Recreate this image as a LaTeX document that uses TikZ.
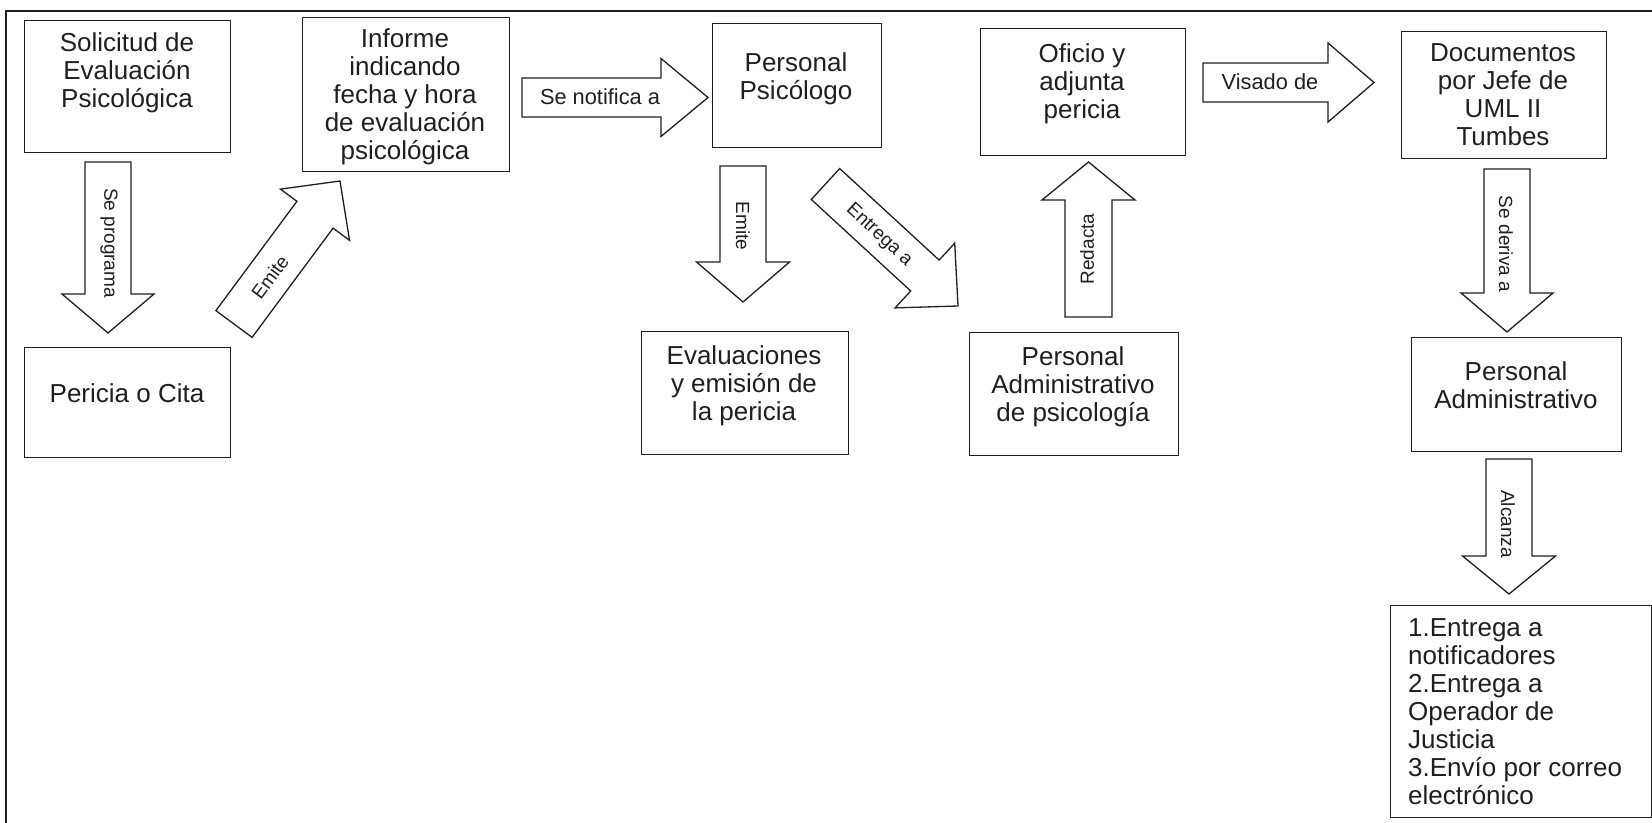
\documentclass[tikz,border=0pt]{standalone}
\usepackage{fontspec}
\setmainfont{Liberation Sans}
\usetikzlibrary{calc}
\definecolor{ink}{HTML}{1F1F1F}

\tikzset{
  box/.style={draw=ink, line width=1.3pt, inner sep=0pt, anchor=north west},
  boxtext/.style={font=\fontsize{26}{28}\selectfont, align=center, inner sep=0pt, text=ink, anchor=north},
  listtext/.style={font=\fontsize{26}{28}\selectfont, align=left, inner sep=0pt, text=ink, anchor=north west},
  arrowbody/.style={draw=ink, line width=1.3pt, fill=white, line join=miter},
  hlabel/.style={font=\fontsize{21.8}{24}\selectfont, inner sep=0pt, text=ink},
  vlabel/.style={font=\fontsize{19}{22}\selectfont, inner sep=0pt, text=ink},
  frameline/.style={draw=ink, line width=1.5pt}
}

% block arrow from tail centre #1 to tip #2;
% #3 shaft width, #4 head width, #5 head length
\newcommand{\blockarrow}[5]{%
  \draw[arrowbody] let \p1=(#1), \p2=(#2),
      \n1={atan2(\y2-\y1,\x2-\x1)},
      \n2={veclen(\x2-\x1,\y2-\y1)} in
    ($(\p1)+(\n1+90:#3/2)$)
    -- ++(\n1:\n2-#5)
    -- ++(\n1+90:#4/2-#3/2)
    -- (\p2)
    -- ($(\p2)+(\n1+180:#5)+(\n1-90:#4/2)$)
    -- ++(\n1+90:#4/2-#3/2)
    -- ++(\n1+180:\n2-#5)
    -- cycle;}

\begin{document}
\begin{tikzpicture}[x=1pt, y=1pt]
\useasboundingbox (0,0) rectangle (1652,-822);

% outer frame (only top and left edges fall inside the page)
\draw[frameline] (6,-830) -- (6,-11) -- (1660,-11);

% boxes
\node[box, minimum width=206pt, minimum height=132pt] (sol) at (24,-20) {};
\node[box, minimum width=207pt, minimum height=154pt] (inf) at (302,-17) {};
\node[box, minimum width=206pt, minimum height=110pt] (per) at (24,-347) {};
\node[box, minimum width=169pt, minimum height=124pt] (psi) at (712,-23) {};
\node[box, minimum width=207pt, minimum height=123pt] (eva) at (641,-331) {};
\node[box, minimum width=205pt, minimum height=127pt] (ofi) at (980,-28) {};
\node[box, minimum width=209pt, minimum height=123pt] (adp) at (969,-332) {};
\node[box, minimum width=205pt, minimum height=127pt] (doc) at (1401,-31) {};
\node[box, minimum width=210pt, minimum height=114pt] (adm) at (1411,-337) {};
\node[box, minimum width=261pt, minimum height=212pt] (lst) at (1390,-605) {};

% box texts
\node[boxtext] (solT) at (127,-31.7) {\strut Solicitud de\\Evaluación\\Psicológica};
\node[boxtext] (infT) at (405,-27.7) {\strut Informe\\indicando\\fecha y hora\\de evaluación\\psicológica};
\node[boxtext] (perT) at (127,-382.7) {\strut Pericia o Cita};
\node[boxtext] (psiT) at (796,-51.7) {\strut Personal\\Psicólogo};
\node[boxtext] (evaT) at (744,-344.7) {\strut Evaluaciones\\y emisión de\\la pericia};
\node[boxtext] (ofiT) at (1082,-42.7) {\strut Oficio y\\adjunta\\pericia};
\node[boxtext] (adpT) at (1073,-345.7) {\strut Personal\\Administrativo\\de psicología};
\node[boxtext] (docT) at (1503,-41.7) {\strut Documentos\\por Jefe de\\UML II\\Tumbes};
\node[boxtext] (admT) at (1516,-360.7) {\strut Personal\\Administrativo};
\node[listtext] (lstT) at (1408,-616.7) {\strut 1.Entrega a\\notificadores\\2.Entrega a\\Operador de\\Justicia\\3.Envío por correo\\electrónico};

% arrow end points
\coordinate (a1s) at (108,-162);    \coordinate (a1e) at (108,-333);
\coordinate (a2s) at (234,-324);    \coordinate (a2e) at (340,-181);
\coordinate (a3s) at (522,-97.5);   \coordinate (a3e) at (708,-97.5);
\coordinate (a4s) at (743,-166);    \coordinate (a4e) at (743,-302);
\coordinate (a5s) at (825.5,-184);  \coordinate (a5e) at (958,-306);
\coordinate (a6s) at (1088.5,-317); \coordinate (a6e) at (1088.5,-162);
\coordinate (a7s) at (1203,-82.5);  \coordinate (a7e) at (1374,-82.5);
\coordinate (a8s) at (1507,-169);   \coordinate (a8e) at (1507,-332);
\coordinate (a9s) at (1509,-459);   \coordinate (a9e) at (1509,-594);

% block arrows
\blockarrow{a1s}{a1e}{46}{92}{39}
\blockarrow{a2s}{a2e}{45}{86}{42}
\blockarrow{a3s}{a3e}{39}{78}{47}
\blockarrow{a4s}{a4e}{46}{93}{40}
\blockarrow{a5s}{a5e}{42}{88}{45}
\blockarrow{a6s}{a6e}{47}{93}{38}
\blockarrow{a7s}{a7e}{39}{79}{46}
\blockarrow{a8s}{a8e}{46}{92}{39}
\blockarrow{a9s}{a9e}{46}{93}{38}

% arrow labels
\node[vlabel, rotate=-90] (l1) at (109,-243) {Se programa};
\node[vlabel, rotate=53.4] (l2) at (270,-277) {Emite};
\node[hlabel] (l3) at (600,-97) {Se notifica a};
\node[vlabel, rotate=-90] (l4) at (743,-226) {Emite};
\node[vlabel, rotate=-42.6] (l5) at (879,-235) {Entrega a};
\node[vlabel, rotate=90] (l6) at (1087,-249) {Redacta};
\node[hlabel] (l7) at (1270,-82) {Visado de};
\node[vlabel, rotate=-90] (l8) at (1506,-244) {Se deriva a};
\node[vlabel, rotate=-90] (l9) at (1508,-524) {Alcanza};
\end{tikzpicture}
\end{document}
